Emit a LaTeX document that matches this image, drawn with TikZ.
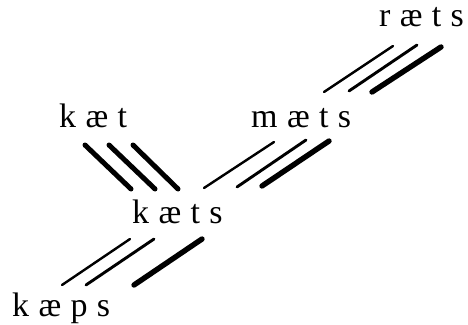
\documentclass[tikz,border=0pt]{standalone}
\usepackage{fontspec}
\newfontfamily\ipafont[WordSpace=1.1]{Liberation Serif}
\begin{document}
\begin{tikzpicture}[x=1pt,y=-1pt,
  word/.style={font=\ipafont\fontsize{34}{34}\selectfont, inner sep=0pt, anchor=base west},
  bar/.style={line cap=round},
  thinline/.style={bar, line width=2.4pt},
  midline/.style={bar, line width=2.9pt},
  thickline/.style={bar, line width=5.4pt},
  heavyline/.style={bar, line width=5pt}]
\useasboundingbox (0,0) rectangle (468,324);
% word forms
\node[word] (rats) at (379,26) {r æ t s};
\node[word] (mats) at (251,127) {m æ t s};
\node[word] (kat)  at (59,127) {k æ t};
\node[word] (kats) at (132,223) {k æ t s};
\node[word] (kaps) at (12,316) {k æ p s};
% kat -- kats
\draw[heavyline] (85,145) -- (131,189);
\draw[heavyline] (109,145) -- (155,189);
\draw[heavyline] (133,145) -- (178,189);
% kats -- mats
\draw[thinline]  (204,188) -- (274,142);
\draw[midline]   (237,187) -- (306,140);
\draw[thickline] (262,186) -- (329,141);
% mats -- rats
\draw[thinline]  (324,92) -- (393,46);
\draw[midline]   (349,91) -- (417,45);
\draw[thickline] (372,92) -- (441,47);
% kaps -- kats
\draw[thinline]  (62,285) -- (130,239);
\draw[midline]   (86,285) -- (154,239);
\draw[thickline] (134,285) -- (202,239);
\end{tikzpicture}
\end{document}
